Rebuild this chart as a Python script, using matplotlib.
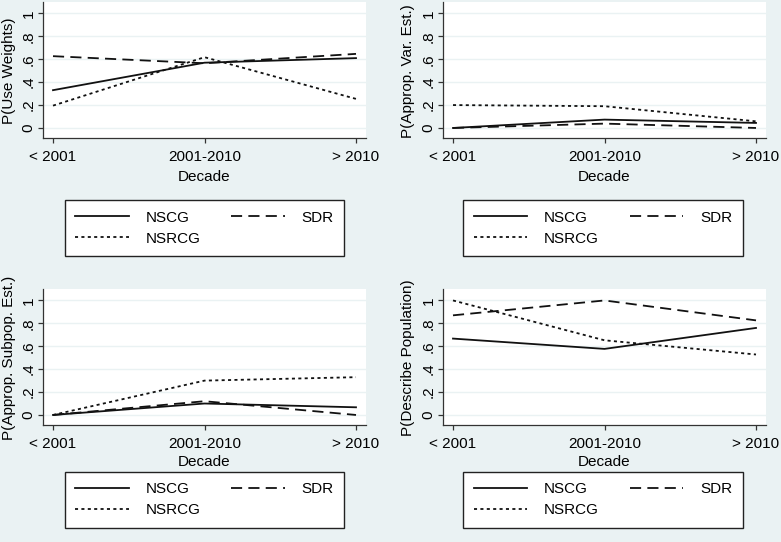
import matplotlib
matplotlib.use("Agg")
import matplotlib.pyplot as plt

plt.rcParams['font.family'] = ['Liberation Sans', 'DejaVu Sans']
plt.rcParams['lines.scale_dashes'] = False

decades = ["< 2001", "2001-2010", "> 2010"]
series_names = ["NSCG", "SDR", "NSRCG"]

use_weights = {"NSCG": [0.33, 0.57, 0.61], "SDR": [0.627, 0.565, 0.647], "NSRCG": [0.195, 0.618, 0.254]}
var_est = {"NSCG": [0.0, 0.073, 0.044], "SDR": [0.0, 0.038, 0.0], "NSRCG": [0.2, 0.19, 0.058]}
subpop_est = {"NSCG": [0.0, 0.10, 0.067], "SDR": [0.0, 0.12, 0.0], "NSRCG": [0.0, 0.30, 0.33]}
describe_pop = {"NSCG": [0.667, 0.577, 0.76], "SDR": [0.87, 1.0, 0.826], "NSRCG": [1.0, 0.652, 0.528]}

ylabels = ["P(Use Weights)", "P(Approp. Var. Est.)", "P(Approp. Subpop. Est.)", "P(Describe Population)"]
yticks = [0, 0.2, 0.4, 0.6, 0.8, 1.0]
yticklabels = ["0", ".2", ".4", ".6", ".8", "1"]

BG = "#EAF2F3"
W, H = 781, 542
fig = plt.figure(figsize=(W / 100, H / 100), dpi=100, facecolor=BG)

def rect(l, t, r, b):
    return [l / W, 1 - b / H, (r - l) / W, (b - t) / H]

# (data, ylabel, axes rect, legend anchor (x, top), ylabel x, xlabel y, y-center of label)
panels = [
    (use_weights, ylabels[0], rect(43, 2, 366, 137.7), (204.5, 200), 9, 177, 71),
    (var_est, ylabels[1], rect(443, 2, 766, 137.7), (603, 200), 408, 177, 71),
    (subpop_est, ylabels[2], rect(43, 289, 366, 424.7), (204.5, 471.5), 9, 462, 357.5),
    (describe_pop, ylabels[3], rect(443, 289, 766, 424.7), (603, 471.5), 408, 462, 357.5),
]

styles = {
    "NSCG": dict(linestyle="-"),
    "SDR": dict(dashes=(8.0, 4.5)),
    "NSRCG": dict(dashes=(2.2, 2.4)),
}

FS = 11
for data, ylab, r, (lx, ly), ylx, xly, yly in panels:
    ax = fig.add_axes(r)
    ax.set_facecolor("white")
    x = list(range(len(decades)))
    handles = {}
    for name in series_names:
        ln, = ax.plot(x, data[name], color="#111111", lw=1.3, label=name, **styles[name])
        handles[name] = ln
    ax.set_xlim(-0.066, 2.066)
    ax.set_ylim(-0.085, 1.10)
    ax.set_xticks(x)
    ax.set_xticklabels(decades, fontsize=FS)
    ax.set_yticks(yticks)
    ax.set_yticklabels(yticklabels, fontsize=FS, rotation=90, va="center")
    ax.grid(axis="y", color=BG, lw=1.0)
    ax.set_axisbelow(True)
    for s in ["top", "right"]:
        ax.spines[s].set_visible(False)
    for s in ["left", "bottom"]:
        ax.spines[s].set_color("#333333")
        ax.spines[s].set_linewidth(0.9)
    ax.tick_params(axis="both", length=3.8, width=0.9, color="#333333", labelcolor="black")
    ax.tick_params(axis="x", pad=5)
    ax.tick_params(axis="y", pad=1.5)
    # axis titles positioned like Stata (centered on the data range)
    xc = (r[0] + r[2] * (0 + 0.066) / 2.132 + r[0] + r[2] * (2 + 0.066) / 2.132) / 2
    fig.text(xc, 1 - xly / H, "Decade", fontsize=FS, ha="center", va="center")
    fig.text(ylx / W, 1 - yly / H, ylab, fontsize=FS, ha="center", va="center", rotation=90)
    leg = fig.legend([handles["NSCG"], handles["NSRCG"], handles["SDR"]],
                     ["NSCG", "NSRCG", "SDR"], ncol=2, loc="upper center",
                     bbox_to_anchor=(lx / W, 1 - ly / H), bbox_transform=fig.transFigure,
                     fontsize=FS, frameon=True, fancybox=False, framealpha=1,
                     edgecolor="#222222", handlelength=3.5, handletextpad=1.1,
                     columnspacing=2.0, labelspacing=0.45, borderpad=0.7, borderaxespad=0)
    leg.get_frame().set_linewidth(1.0)

fig.savefig("out.png", dpi=100, facecolor=BG)
